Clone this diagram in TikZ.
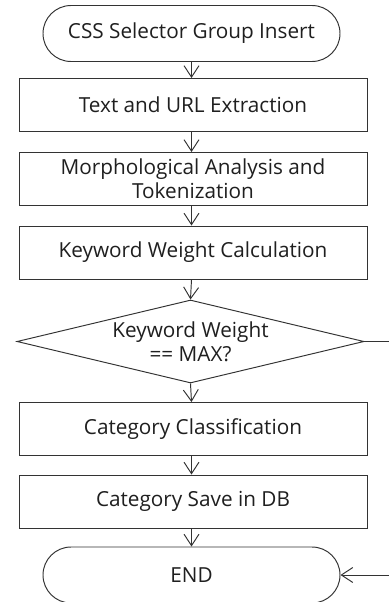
\documentclass[tikz,border=0pt]{standalone}
\usepackage{fontspec}
\setmainfont{Open Sans}
\usetikzlibrary{shapes.geometric,arrows.meta}

\begin{document}
\begin{tikzpicture}[
    terminal/.style={draw=black!80,rounded corners=0.56cm,fill=white,line width=0.55pt,
        minimum width=5.94cm,minimum height=1.12cm,align=center,font=\fontsize{11.8}{13.6}\selectfont,text=black!88},
    process/.style={draw=black!80,fill=white,line width=0.55pt,
        minimum width=6.96cm,minimum height=1.06cm,align=center,font=\fontsize{11.8}{13.6}\selectfont,text=black!88},
    decision/.style={draw=black!80,diamond,aspect=4.18,fill=white,line width=0.55pt,inner sep=0pt,
        minimum width=6.94cm,minimum height=1.66cm,align=center,font=\fontsize{11.8}{13.6}\selectfont,text=black!88},
    flow/.style={-{Straight Barb[length=6.5pt,width=8.5pt]},draw=black!80,line width=0.55pt}
]
    \useasboundingbox (0,0) rectangle (7.76,-12.04);

    \node[terminal] (start) at (3.83,-0.67) {CSS Selector Group Insert};
    \node[process] (extract) at (3.86,-2.10) {Text and URL Extraction};
    \node[process] (morph) at (3.86,-3.58) {Morphological Analysis and\\Tokenization};
    \node[process] (weight) at (3.86,-5.05) {Keyword Weight Calculation};
    \node[decision] (check) at (3.81,-6.83) {Keyword Weight\\== MAX?};
    \node[process] (classify) at (3.86,-8.58) {Category Classification};
    \node[process] (save) at (3.86,-10.03) {Category Save in DB};
    \node[terminal] (stop) at (3.83,-11.50) {END};

    \draw[flow] (start.south) -- (start.south |- extract.north);
    \draw[flow] (start.south |- extract.south) -- (start.south |- morph.north);
    \draw[flow] (start.south |- morph.south) -- (start.south |- weight.north);
    \draw[flow] (start.south |- weight.south) -- (check.north);
    \draw[flow] (check.south) -- (start.south |- classify.north);
    \draw[flow] (start.south |- classify.south) -- (start.south |- save.north);
    \draw[flow] (start.south |- save.south) -- (stop.north);
    % "yes" branch leaves the frame on the right and comes back into END
    \draw[flow] (check.east) -- ++(0.8,0) |- (stop.east);
\end{tikzpicture}
\end{document}
